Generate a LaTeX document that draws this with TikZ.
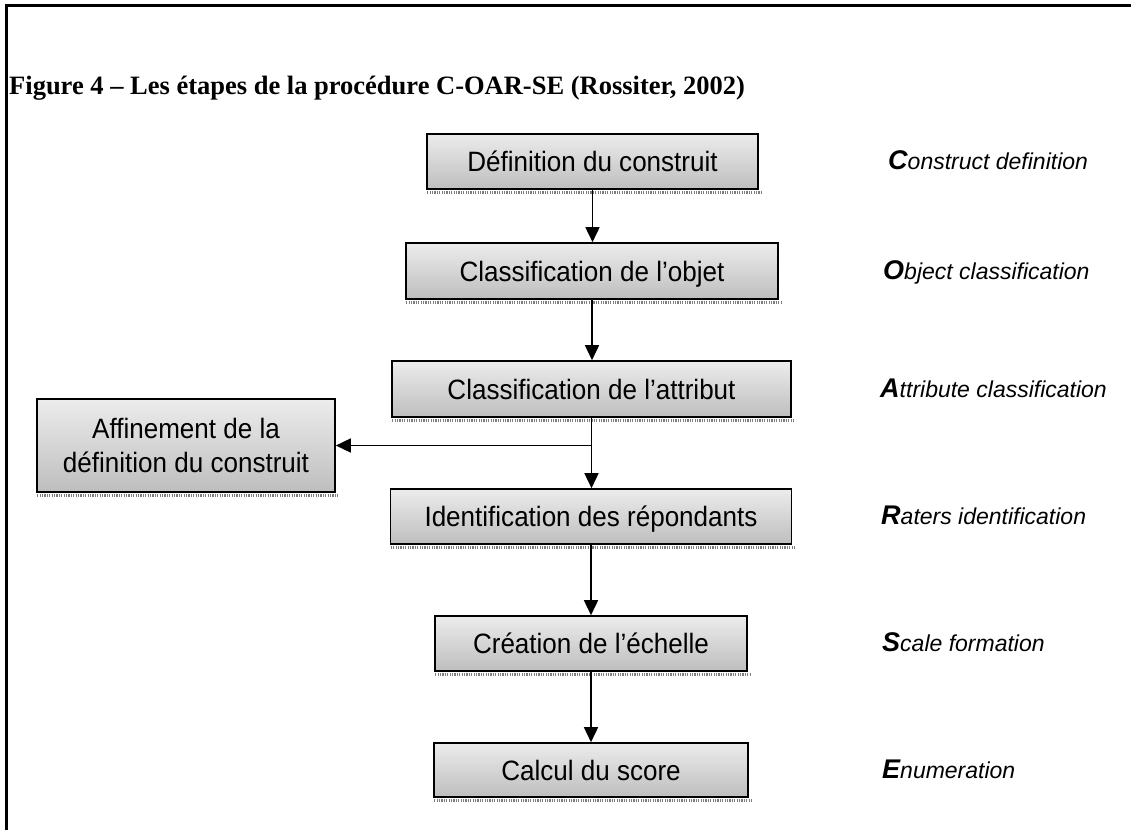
\documentclass[tikz,border=0pt]{standalone}
\usepackage{fontspec}
\setmainfont{Liberation Serif}
\setsansfont{Liberation Sans}
\newfontfamily\boxfont{Liberation Sans}[FakeStretch=0.93]
\usetikzlibrary{arrows.meta}

\definecolor{boxtop}{RGB}{236,236,236}
\definecolor{boxbot}{RGB}{190,190,190}
\definecolor{shadowgray}{RGB}{125,125,125}

% bold, slightly larger initial of each English step name
\newcommand\tagcap[1]{{\bfseries\fontsize{27}{30}\selectfont #1}}

\begin{document}
\begin{tikzpicture}[x=1pt,y=-1pt,
  stepbox/.style={draw=black, line width=1.6pt, top color=boxtop, bottom color=boxbot,
    font=\boxfont\fontsize{28}{34}\selectfont, inner sep=0pt,
    text height=20pt, text depth=0pt},
  twolinebox/.style={draw=black, line width=1.6pt, top color=boxtop, bottom color=boxbot,
    font=\boxfont\fontsize{28}{34}\selectfont, inner sep=0pt, align=center},
  flow/.style={line width=1.6pt, -{Triangle[width=14pt,length=15pt]}},
  shadowline/.style={line width=3pt, draw=shadowgray, dash pattern=on 1.2pt off 1.2pt},
  tag/.style={anchor=base west, font=\sffamily\itshape\fontsize{23}{28}\selectfont, inner sep=0pt},
]
\useasboundingbox (0,0) rectangle (1131,830);

% open frame: top and left rules
\draw[line width=2.5pt] (6.5,830) -- (6.5,5.5) -- (1131,5.5);

% title
\node[anchor=base west, inner sep=0pt, font=\bfseries\fontsize{26.5}{30}\selectfont]
  (title) at (9,94) {Figure 4 – Les étapes de la procédure C-OAR-SE (Rossiter, 2002)};

% steps of the procedure
\node[stepbox, minimum width=331pt, minimum height=55pt] (b1) at (592.5,161.5) {Définition du construit};
\node[stepbox, minimum width=372pt, minimum height=56pt] (b2) at (592,271) {Classification de l’objet};
\node[stepbox, minimum width=399pt, minimum height=56pt] (b3) at (591.5,389) {Classification de l’attribut};
\node[stepbox, minimum width=401pt, minimum height=55pt] (b4) at (591,516.5) {Identification des répondants};
\node[stepbox, minimum width=312pt, minimum height=55pt] (b5) at (591,643.5) {Création de l’échelle};
\node[stepbox, minimum width=314pt, minimum height=54pt] (b6) at (591,770) {Calcul du score};
\node[twolinebox, minimum width=298pt, minimum height=93pt] (aff) at (186,445.5)
  {Affinement de la\\définition du construit};

% shadow strips under the boxes
\foreach \b in {b1,b2,b3,b4,b5,b6,aff}{
  \draw[shadowline] ([xshift=1pt,yshift=-2.6pt]\b.south west) -- ([xshift=3pt,yshift=-2.6pt]\b.south east);
}

% connectors
\draw[flow] (b1.south) -- (b1.south |- b2.north);
\draw[flow] (b2.south) -- (b2.south |- b3.north);
\draw[flow] (b3.south) -- (b3.south |- b4.north);
\draw[flow] (b3.south |- aff.east) -- (aff.east);
\draw[flow] (b4.south) -- (b5.north);
\draw[flow] (b5.south) -- (b6.north);

% English step names
\node[tag] (t1) at (888,169.8) {\tagcap{C}onstruct definition};
\node[tag] (t2) at (883,279.3) {\tagcap{O}bject classification};
\node[tag] (t3) at (880,397.3) {\tagcap{A}ttribute classification};
\node[tag] (t4) at (881,524.8) {\tagcap{R}aters identification};
\node[tag] (t5) at (882,651.8) {\tagcap{S}cale formation};
\node[tag] (t6) at (882,778.3) {\tagcap{E}numeration};
\end{tikzpicture}
\end{document}
